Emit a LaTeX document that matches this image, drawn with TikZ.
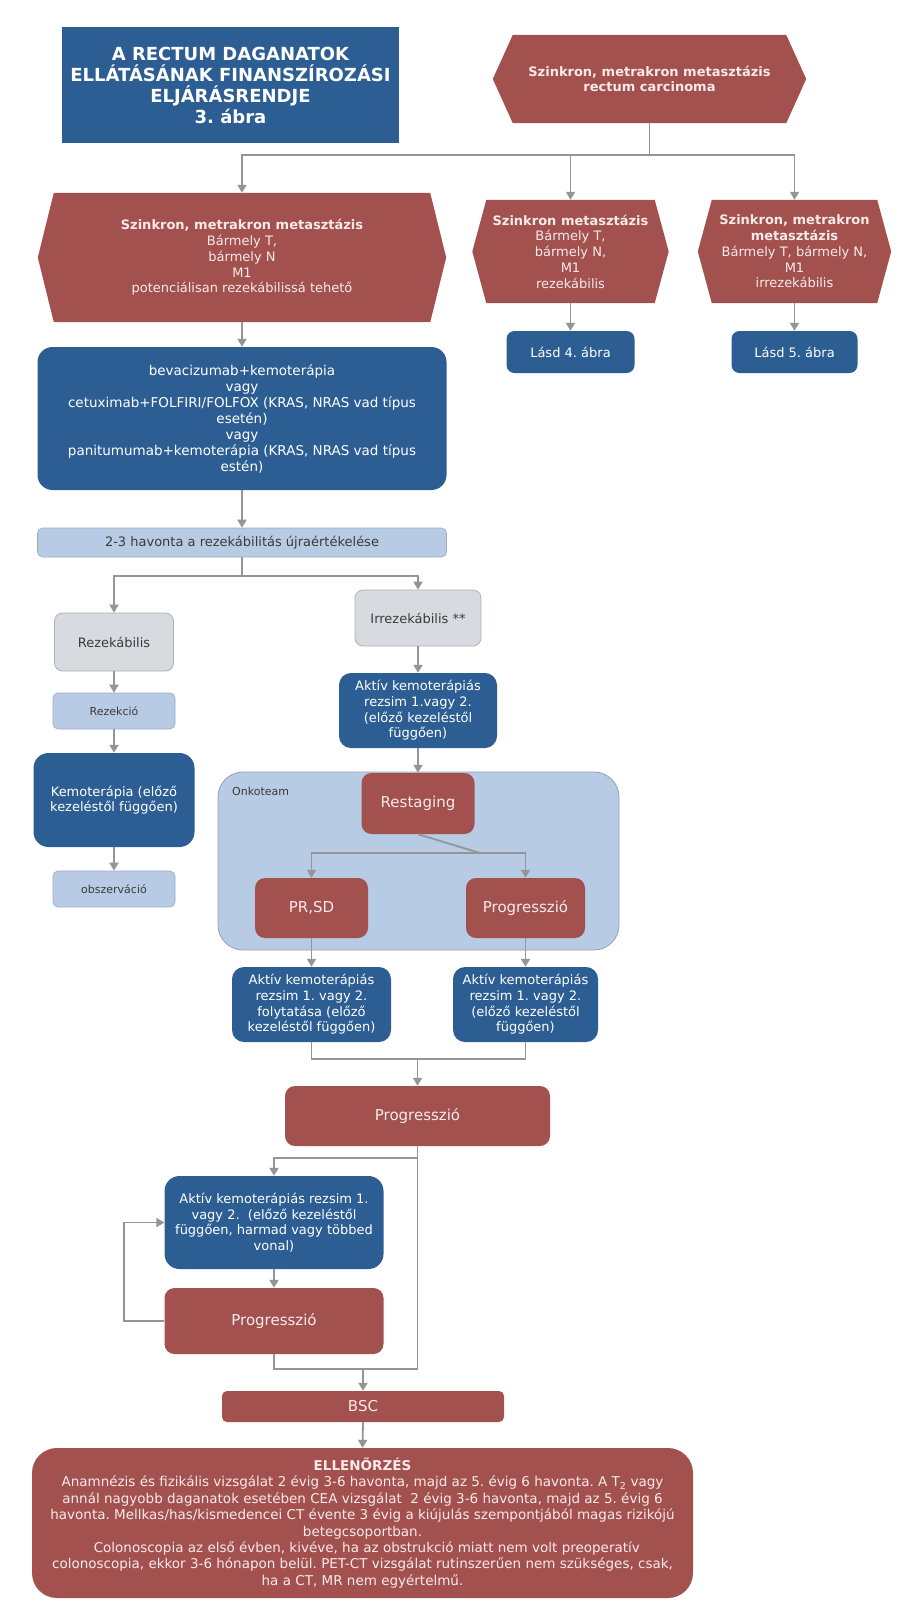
\documentclass[tikz,border=0pt]{standalone}
\usepackage{fontspec}
\setmainfont{DejaVu Sans}
\usetikzlibrary{arrows.meta,backgrounds}
\frenchspacing

\definecolor{darkblue}{HTML}{2D5E93}
\definecolor{darkred}{HTML}{A3514F}
\definecolor{lightblue}{HTML}{B7CBE4}
\definecolor{lightgrey}{HTML}{D7DBE0}
\definecolor{linegrey}{HTML}{959595}
\definecolor{redtext}{HTML}{F7EAE9}
\definecolor{darktext}{HTML}{3B3B3B}

\newcommand\hexfill[2]{\fill[darkred] ([xshift=#2pt]#1.north west) -- ([xshift=-#2pt]#1.north east) -- (#1.east) -- ([xshift=-#2pt]#1.south east) -- ([xshift=#2pt]#1.south west) -- (#1.west) -- cycle;}

\begin{document}
\begin{tikzpicture}[x=1pt,y=-1pt,
  sz/.style 2 args={minimum width=#1pt,minimum height=#2pt},
  box/.style={align=center,inner sep=0pt,font=\fontsize{13}{15.7}\selectfont},
  bluebox/.style={box,fill=darkblue,text=white,rounded corners=12pt},
  redbox/.style={box,fill=darkred,text=redtext,rounded corners=10pt,font=\fontsize{15}{18}\selectfont},
  hexbox/.style={box,text=redtext},
  lightbox/.style={box,fill=lightblue,draw=lightblue!85!black,line width=0.6pt,text=darktext,rounded corners=5pt},
  greybox/.style={box,fill=lightgrey,draw=gray!60,line width=0.8pt,text=darktext,rounded corners=8pt},
  small/.style={font=\fontsize{11}{13}\selectfont},
  line/.style={draw=linegrey,line width=1.8pt},
  arr/.style={line,-{Triangle[width=9pt,length=8pt]}},
]
\useasboundingbox (0,0) rectangle (915,1623);

\node[box,fill=darkblue,text=white,sz={337}{116},font=\fontsize{18}{21}\selectfont\bfseries] (title) at (230.5,85)
  {A RECTUM DAGANATOK\\ELLÁTÁSÁNAK FINANSZÍROZÁSI\\ELJÁRÁSRENDJE\\3. ábra};

\node[hexbox,sz={313}{88}] (top) at (649.5,79) {\textbf{Szinkron, metrakron metasztázis}\\\textbf{rectum carcinoma}};
\node[hexbox,sz={408}{129}] (lhex) at (242,257.5) {\textbf{Szinkron, metrakron metasztázis}\\Bármely T,\\bármely N\\M1\\potenciálisan rezekábilissá tehető};
\node[hexbox,sz={196}{103}] (mhex) at (570.5,251.5) {\textbf{Szinkron metasztázis}\\Bármely T,\\bármely N,\\M1\\rezekábilis};
\node[hexbox,sz={193}{103}] (rhex) at (794.5,251.5) {\textbf{Szinkron, metrakron}\\\textbf{metasztázis}\\Bármely T, bármely N,\\M1\\irrezekábilis};

\node[bluebox,rounded corners=8pt,sz={128}{42}] (lasd4) at (570.5,352) {Lásd 4. ábra};
\node[bluebox,rounded corners=8pt,sz={126}{42}] (lasd5) at (794.5,352) {Lásd 5. ábra};

\node[bluebox,rounded corners=15pt,sz={409}{143},font=\fontsize{13.5}{16}\selectfont] (drug) at (242,418.5) {bevacizumab+kemoterápia\\vagy\\cetuximab+FOLFIRI/FOLFOX (KRAS, NRAS vad típus\\esetén)\\vagy\\panitumumab+kemoterápia (KRAS, NRAS vad típus\\estén)};
\node[lightbox,sz={409}{29}] (reassess) at (242,542.5) {2-3 havonta a rezekábilitás újraértékelése};

\node[greybox,sz={119}{58}] (rezek) at (114,642) {Rezekábilis};
\node[greybox,sz={126}{56}] (irrez) at (418,618) {Irrezekábilis **};
\node[lightbox,small,sz={122}{36}] (rezekcio) at (114,711) {Rezekció};
\node[bluebox,rounded corners=15pt,sz={161}{94}] (kemo) at (114,800) {Kemoterápia (előző\\kezeléstől függően)};
\node[lightbox,small,sz={122}{36}] (obsz) at (114,889) {obszerváció};
\node[bluebox,sz={158}{75}] (akt1) at (418,710.5) {Aktív kemoterápiás\\rezsim 1.vagy 2.\\(előző kezeléstől\\függően)};

\node[fill=lightblue,draw=lightblue!80!black,line width=0.8pt,rounded corners=25pt,sz={401}{178}] (onko) at (418.5,861) {};
\node[anchor=west,inner sep=0pt,small,text=darktext] (onkolabel) at (232,791) {Onkoteam};
\node[redbox,sz={113}{61}] (restaging) at (418,803.5) {Restaging};
\node[redbox,sz={113}{60}] (prsd) at (311.5,908) {PR,SD};
\node[redbox,sz={119}{60}] (prog1) at (525.5,908) {Progresszió};

\node[bluebox,sz={159}{75}] (akt2l) at (311.5,1004.5) {Aktív kemoterápiás\\rezsim 1. vagy 2.\\folytatása (előző\\kezeléstől függően)};
\node[bluebox,sz={145}{75}] (akt2r) at (525.5,1004.5) {Aktív kemoterápiás\\rezsim 1. vagy 2.\\(előző kezeléstől\\függően)};
\node[redbox,sz={265}{60}] (prog2) at (417.5,1116) {Progresszió};
\node[bluebox,rounded corners=15pt,sz={219}{93}] (akt3) at (274,1222.5) {Aktív kemoterápiás rezsim 1.\\vagy 2.\ \ (előző kezeléstől\\függően, harmad vagy többed\\vonal)};
\node[redbox,sz={219}{66}] (prog3) at (274,1321) {Progresszió};
\node[redbox,rounded corners=5pt,sz={282}{31}] (bsc) at (363,1406.5) {BSC};
\node[redbox,rounded corners=25pt,sz={661}{150},font=\fontsize{13.5}{16.4}\selectfont] (check) at (362.5,1523)
  {\textbf{ELLENŐRZÉS}\\Anamnézis és fizikális vizsgálat 2 évig 3-6 havonta, majd az 5. évig 6 havonta. A T\textsubscript{2} vagy\\annál nagyobb daganatok esetében CEA vizsgálat\ \ 2 évig 3-6 havonta, majd az 5. évig 6\\havonta. Mellkas/has/kismedencei CT évente 3 évig a kiújulás szempontjából magas rizikójú\\betegcsoportban.\\\ \ Colonoscopia az első évben, kivéve, ha az obstrukció miatt nem volt preoperatív\\colonoscopia, ekkor 3-6 hónapon belül. PET-CT vizsgálat rutinszerűen nem szükséges, csak,\\ha a CT, MR nem egyértelmű.};

\coordinate (jtop) at (649.5,155);
\coordinate (jres) at (242,576);
\coordinate (jrs) at (480,853);
\coordinate (jakt) at (417.5,1059);
\coordinate (jp2) at (417.5,1158);
\coordinate (jlow) at (417.5,1369);

\draw[line] (top.south) -- (jtop);
\draw[arr] (jtop) -| (lhex.north);
\draw[arr] (jtop) -| (mhex.north);
\draw[arr] (jtop) -| (rhex.north);
\draw[arr] (mhex.south) -- (lasd4.north);
\draw[arr] (rhex.south) -- (lasd5.north);
\draw[arr] (lhex.south) -- (drug.north);
\draw[arr] (drug.south) -- (reassess.north);
\draw[line] (reassess.south) -- (jres);
\draw[arr] (jres) -| (rezek.north);
\draw[arr] (jres) -| (irrez.north);
\draw[arr] (rezek.south) -- (rezekcio.north);
\draw[arr] (rezekcio.south) -- (kemo.north);
\draw[arr] (kemo.south) -- (obsz.north);
\draw[arr] (irrez.south) -- (akt1.north);
\draw[arr] (akt1.south) -- (restaging.north);
\draw[line] (restaging.south) -- (jrs);
\draw[arr] (jrs) -| (prsd.north);
\draw[arr] (jrs) -| (prog1.north);
\draw[arr] (prsd.south) -- (akt2l.north);
\draw[arr] (prog1.south) -- (akt2r.north);
\draw[line] (akt2l.south) |- (jakt) -| (akt2r.south);
\draw[arr] (jakt) -- (prog2.north);
\draw[line] (prog2.south) -- (jp2) -- (jlow);
\draw[arr] (jp2) -| (akt3.north);
\draw[arr] (akt3.south) -- (prog3.north);
\draw[arr] (prog3.west) -- ++(-40,0) |- (akt3.west);
\draw[line] (prog3.south) |- (jlow);
\draw[arr] (bsc.north |- jlow) -- (bsc.north);
\draw[arr] (bsc.south) -- (check.north);

\begin{scope}[on background layer]
\fill[white] (0,0) rectangle (915,1623);
\hexfill{top}{20}
\hexfill{lhex}{16}
\hexfill{mhex}{14}
\hexfill{rhex}{14}
\end{scope}
\end{tikzpicture}
\end{document}
